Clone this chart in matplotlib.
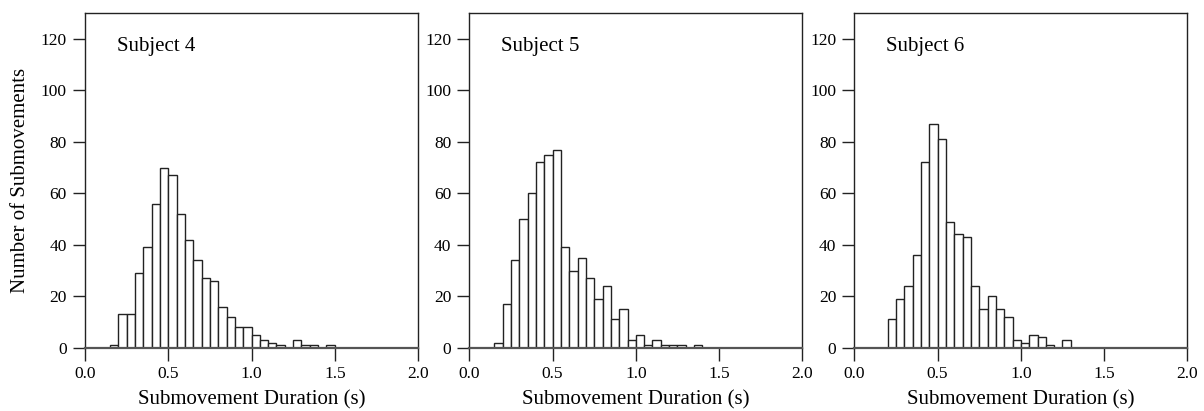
import matplotlib
matplotlib.use('Agg')
import matplotlib.pyplot as plt
import numpy as np

# left edges of the 0.05 s bins, shared by all three subjects
bin_left = [0.15, 0.20, 0.25, 0.30, 0.35, 0.40, 0.45, 0.50, 0.55, 0.60,
            0.65, 0.70, 0.75, 0.80, 0.85, 0.90, 0.95, 1.00, 1.05, 1.10,
            1.15, 1.20, 1.25, 1.30, 1.35, 1.40, 1.45]
bin_width = 0.05

subject4 = [1, 13, 13, 29, 39, 56, 70, 67, 52, 42, 34, 27, 26, 16, 12, 8, 8,
            5, 3, 2, 1, 0, 3, 1, 1, 0, 1]
subject5 = [2, 17, 34, 50, 60, 72, 75, 77, 39, 30, 35, 27, 19, 24, 11, 15, 3,
            5, 1, 3, 1, 1, 1, 0, 1, 0, 0]
subject6 = [0, 11, 19, 24, 36, 72, 87, 81, 49, 44, 43, 24, 15, 20, 15, 12, 3,
            2, 5, 4, 1, 0, 3, 0, 0, 0, 0]

titles = ['Subject 4', 'Subject 5', 'Subject 6']
xticks = [0.0, 0.5, 1.0, 1.5, 2.0]
yticks = [0, 20, 40, 60, 80, 100, 120]

plt.rcParams['font.family'] = ['Liberation Serif', 'DejaVu Serif']
line_col = '#222222'

fig = plt.figure(figsize=(12.04, 4.11), dpi=100)
lefts = [0.0706, 0.3898, 0.7096]

for i, counts in enumerate([subject4, subject5, subject6]):
    ax = fig.add_axes([lefts[i], 0.154, 0.2766, 0.814])
    ax.bar(bin_left, counts, width=bin_width, align='edge',
           facecolor='white', edgecolor=line_col, linewidth=1.0)
    ax.set_xlim(0, 2.0)
    ax.set_ylim(0, 130)
    ax.set_xticks(xticks)
    ax.set_xticklabels([f'{t:.1f}' for t in xticks])
    ax.set_yticks(yticks)
    ax.tick_params(direction='out', length=9, width=1.0, color=line_col,
                   labelsize=12.5, pad=4)
    for s in ax.spines.values():
        s.set_color(line_col)
        s.set_linewidth(1.0)
    ax.spines['bottom'].set_color('#555555')
    ax.spines['bottom'].set_linewidth(1.6)
    ax.text(0.096, 0.90, titles[i], transform=ax.transAxes,
            fontsize=15, va='center', ha='left')
    ax.set_xlabel('Submovement Duration (s)', fontsize=15, labelpad=6)
    if i == 0:
        ax.set_ylabel('Number of Submovements', fontsize=15, labelpad=8)

plt.savefig('out.png', dpi=100)
plt.close()
